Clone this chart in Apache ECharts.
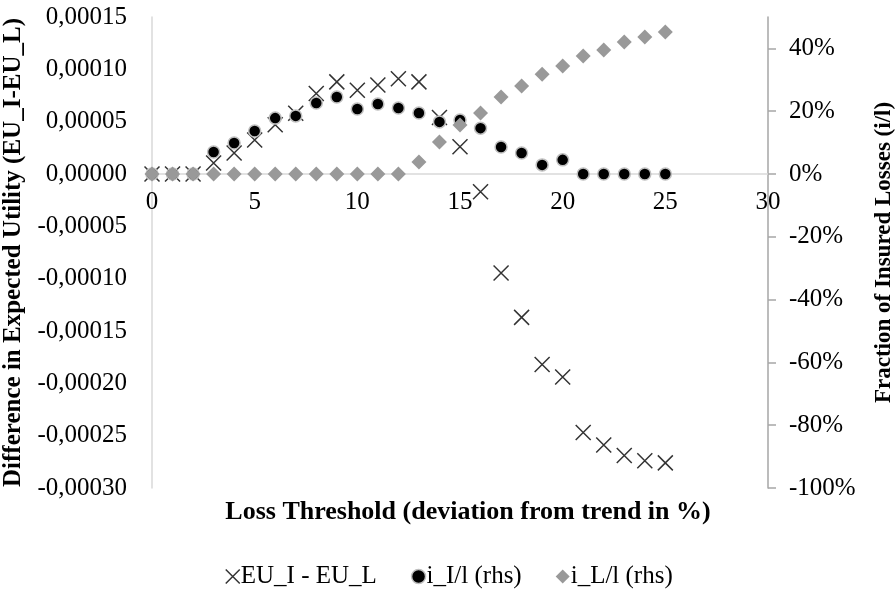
<!DOCTYPE html>
<html>
<head>
<meta charset="utf-8">
<script src="https://cdn.jsdelivr.net/npm/echarts@6/dist/echarts.min.js"></script>
<style>
  html, body { margin: 0; padding: 0; background: #fff; }
  #chart { width: 896px; height: 592px; }
</style>
</head>
<body>
<div id="chart"></div>
<script>
// loss threshold (deviation from trend in %)
var thresholds = [0, 1, 2, 3, 4, 5, 6, 7, 8, 9, 10, 11, 12, 13, 14, 15, 16, 17, 18, 19, 20, 21, 22, 23, 24, 25];
// EU_I - EU_L (left axis)
var euDiff = [0, 0, 0, 1.05e-5, 2.0e-5, 3.25e-5, 4.7e-5, 5.8e-5, 7.7e-5, 8.8e-5, 8.0e-5, 8.5e-5, 9.1e-5, 8.8e-5,
  5.4e-5, 2.6e-5, -1.7e-5, -9.46e-5, -1.37e-4, -1.82e-4, -1.94e-4, -2.47e-4, -2.59e-4, -2.69e-4, -2.74e-4, -2.76e-4];
// i_I/l in % (right axis)
var iI = [0, 0, 0, 7.0, 9.9, 13.7, 17.8, 18.5, 22.6, 24.5, 20.7, 22.3, 21.0, 19.4,
  16.6, 17.2, 14.6, 8.6, 6.7, 2.9, 4.5, 0, 0, 0, 0, 0];
// i_L/l in % (right axis)
var iL = [0, 0, 0, 0, 0, 0, 0, 0, 0, 0, 0, 0, 0, 3.8,
  10.2, 15.6, 19.4, 24.5, 28.0, 31.8, 34.4, 37.6, 39.5, 42.0, 43.6, 45.2];

// axis ranges
var leftMin = -0.0003, leftMax = 0.00015;

function pairs(xs, ys) {
  return xs.map(function (x, i) { return [x, ys[i]]; });
}

var FONT = '"Liberation Serif", "Times New Roman", serif';
var crossPath = 'path://M0,0L10,10M10,0L0,10';
var diamondPath = 'path://M5,0L10,5L5,10L0,5Z';

var W = 896, H = 592;
var grid = { left: 152, right: 128, top: 17, bottom: 104 };
// lift the x axis from the bottom edge up to the zero of the left axis
var plotH = H - grid.top - grid.bottom;
var zeroOffset = -plotH * (0 - leftMin) / (leftMax - leftMin);

var chart = echarts.init(document.getElementById('chart'));
chart.setOption({
  animation: false,
  textStyle: { fontFamily: FONT, color: '#000' },
  grid: {
    left: grid.left, right: grid.right, top: grid.top, bottom: grid.bottom,
    containLabel: false, outerBoundsMode: 'none'
  },
  xAxis: {
    type: 'value', min: 0, max: 30, interval: 5,
    offset: zeroOffset,
    axisLine: { onZero: false, lineStyle: { color: '#d9d9d9', width: 1.5 } },
    axisTick: { show: false },
    splitLine: { show: false },
    axisLabel: { fontFamily: FONT, fontSize: 25, color: '#000', margin: 16 }
  },
  yAxis: [{
    type: 'value', min: leftMin, max: leftMax, interval: 0.00005,
    name: 'Difference in Expected Utility (EU_I-EU_L)',
    nameLocation: 'middle', nameRotate: 90, nameGap: 116,
    nameTextStyle: { fontFamily: FONT, fontSize: 25, fontWeight: 'bold', color: '#000' },
    axisLine: { show: true, onZero: false, lineStyle: { color: '#d9d9d9', width: 1.5 } },
    axisTick: { show: false },
    splitLine: { show: false },
    axisLabel: {
      fontFamily: FONT, fontSize: 25, color: '#000', margin: 25,
      formatter: function (v) {
        var s = Math.abs(v) < 1e-12 ? '0.00000' : v.toFixed(5);
        return s.replace('.', ',');
      }
    }
  }, {
    type: 'value', min: -100, max: 50, interval: 20, position: 'right',
    name: 'Fraction of Insured Losses (i/l)',
    nameLocation: 'middle', nameRotate: 90, nameGap: 105,
    nameTextStyle: { fontFamily: FONT, fontSize: 23, fontWeight: 'bold', color: '#000' },
    axisLine: { show: true, onZero: false, lineStyle: { color: '#a6a6a6', width: 1.5 } },
    axisTick: { show: true, inside: false, length: 8, lineStyle: { color: '#a6a6a6', width: 1.5 } },
    splitLine: { show: false },
    axisLabel: {
      fontFamily: FONT, fontSize: 25, color: '#000', margin: 21, showMaxLabel: false,
      formatter: '{value}%'
    }
  }],
  legend: {
    bottom: -2, left: 'center',
    itemGap: 34, itemWidth: 14, itemHeight: 14,
    textStyle: { fontFamily: FONT, fontSize: 25, color: '#000', padding: [0, 0, 0, -4] },
    data: [
      { name: 'EU_I - EU_L', icon: crossPath, itemStyle: { color: 'none', borderColor: '#000', borderWidth: 1.5 } },
      { name: 'i_I/l (rhs)', icon: 'circle', itemStyle: { color: '#000', borderColor: '#bfbfbf', borderWidth: 1.5 } },
      { name: 'i_L/l (rhs)', icon: diamondPath, itemStyle: { color: '#999999', borderWidth: 0 } }
    ]
  },
  graphic: [{
    type: 'text', x: 468, y: 499,
    style: {
      text: 'Loss Threshold (deviation from trend in %)',
      font: 'bold 26px ' + FONT, fill: '#000', align: 'center'
    }
  }],
  series: [{
    name: 'EU_I - EU_L', type: 'scatter', yAxisIndex: 0,
    symbol: crossPath, symbolSize: 15,
    itemStyle: { color: 'none', borderColor: '#000', borderWidth: 1.5 },
    data: pairs(thresholds, euDiff)
  }, {
    name: 'i_I/l (rhs)', type: 'scatter', yAxisIndex: 1,
    symbol: 'circle', symbolSize: 12,
    itemStyle: { color: '#000', borderColor: '#bfbfbf', borderWidth: 1.5, opacity: 1 },
    data: pairs(thresholds, iI)
  }, {
    name: 'i_L/l (rhs)', type: 'scatter', yAxisIndex: 1,
    symbol: diamondPath, symbolSize: 15,
    itemStyle: { color: '#999999', opacity: 1 },
    data: pairs(thresholds, iL)
  }]
});
</script>
</body>
</html>
